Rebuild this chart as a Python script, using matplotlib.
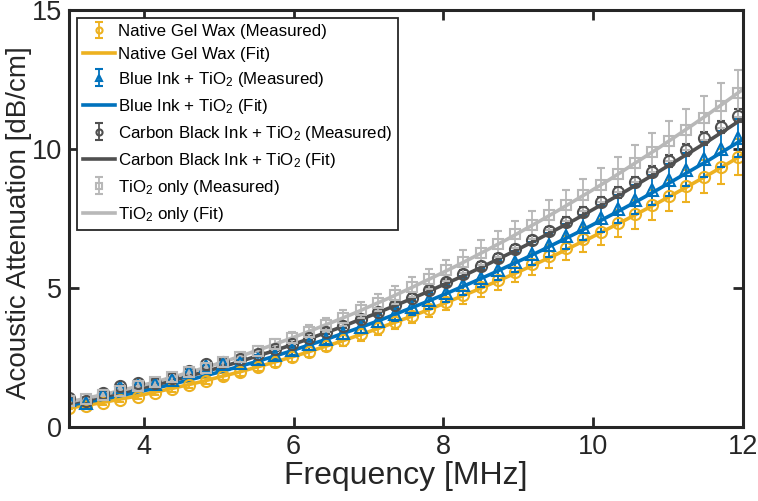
import matplotlib
matplotlib.use("Agg")
import matplotlib.pyplot as plt
from matplotlib import font_manager

# measured frequencies [MHz] and fit frequencies
freq_meas = [3.000, 3.229, 3.458, 3.687, 3.916, 4.145, 4.374, 4.603, 4.832, 5.061,
             5.290, 5.519, 5.748, 5.977, 6.206, 6.435, 6.664, 6.893, 7.122, 7.351,
             7.580, 7.809, 8.038, 8.267, 8.496, 8.725, 8.954, 9.183, 9.412, 9.641,
             9.870, 10.099, 10.328, 10.557, 10.786, 11.015, 11.244, 11.473, 11.702, 11.931]
freq_fit = [3.000, 3.225, 3.450, 3.675, 3.900, 4.125, 4.350, 4.575, 4.800, 5.025,
            5.250, 5.475, 5.700, 5.925, 6.150, 6.375, 6.600, 6.825, 7.050, 7.275,
            7.500, 7.725, 7.950, 8.175, 8.400, 8.625, 8.850, 9.075, 9.300, 9.525,
            9.750, 9.975, 10.200, 10.425, 10.650, 10.875, 11.100, 11.325, 11.550, 11.775, 12.000]

gel_meas = [0.68, 0.76, 0.86, 0.97, 1.08, 1.22, 1.36, 1.51, 1.66, 1.82,
            1.98, 2.15, 2.33, 2.52, 2.71, 2.91, 3.12, 3.33, 3.55, 3.78,
            4.01, 4.25, 4.50, 4.76, 5.02, 5.29, 5.57, 5.85, 6.14, 6.44,
            6.75, 7.02, 7.33, 7.65, 7.98, 8.32, 8.66, 9.01, 9.36, 9.72]
gel_err = [0.05, 0.05, 0.06, 0.07, 0.08, 0.08, 0.09, 0.10, 0.11, 0.12,
           0.13, 0.14, 0.16, 0.17, 0.18, 0.19, 0.21, 0.22, 0.24, 0.25,
           0.27, 0.28, 0.30, 0.32, 0.33, 0.35, 0.37, 0.39, 0.41, 0.43,
           0.45, 0.47, 0.49, 0.51, 0.53, 0.55, 0.58, 0.60, 0.63, 0.65]
gel_fit = [0.68, 0.78, 0.88, 1.00, 1.11, 1.24, 1.37, 1.51, 1.65, 1.81,
           1.96, 2.13, 2.30, 2.48, 2.66, 2.86, 3.05, 3.26, 3.47, 3.69,
           3.91, 4.14, 4.38, 4.63, 4.88, 5.14, 5.40, 5.67, 5.95, 6.23,
           6.53, 6.82, 7.13, 7.44, 7.76, 8.08, 8.41, 8.75, 9.09, 9.44, 9.80]

blue_meas = [0.98, 0.88, 1.18, 1.45, 1.52, 1.55, 1.68, 1.98, 2.18, 2.25,
             2.30, 2.45, 2.60, 2.78, 2.97, 3.17, 3.38, 3.60, 3.83, 4.07,
             4.31, 4.56, 4.82, 5.09, 5.37, 5.65, 5.94, 6.24, 6.55, 6.86,
             7.18, 7.51, 7.84, 8.18, 8.53, 8.89, 9.26, 9.63, 10.01, 10.40]
blue_err = [0.05, 0.06, 0.07, 0.07, 0.08, 0.09, 0.10, 0.11, 0.12, 0.13,
            0.14, 0.15, 0.17, 0.18, 0.19, 0.20, 0.22, 0.23, 0.25, 0.26,
            0.28, 0.30, 0.31, 0.33, 0.35, 0.36, 0.38, 0.40, 0.42, 0.44,
            0.46, 0.48, 0.50, 0.53, 0.55, 0.57, 0.59, 0.62, 0.64, 0.67]
blue_fit = [0.78, 0.89, 1.00, 1.12, 1.25, 1.38, 1.52, 1.67, 1.83, 1.99,
            2.16, 2.33, 2.51, 2.70, 2.90, 3.10, 3.31, 3.52, 3.74, 3.97,
            4.21, 4.45, 4.70, 4.96, 5.22, 5.49, 5.77, 6.05, 6.34, 6.64,
            6.94, 7.25, 7.57, 7.89, 8.22, 8.56, 8.91, 9.26, 9.61, 9.98, 10.35]

carbon_meas = [1.03, 0.95, 1.21, 1.47, 1.57, 1.60, 1.75, 2.03, 2.25, 2.33,
               2.45, 2.62, 2.80, 2.98, 3.20, 3.43, 3.65, 3.90, 4.14, 4.38,
               4.65, 4.92, 5.20, 5.49, 5.79, 6.09, 6.40, 6.72, 7.05, 7.39,
               7.73, 8.08, 8.44, 8.81, 9.19, 9.58, 9.97, 10.38, 10.79, 11.20]
carbon_err = [0.05, 0.05, 0.05, 0.05, 0.06, 0.06, 0.06, 0.07, 0.07, 0.07,
              0.08, 0.08, 0.08, 0.09, 0.09, 0.10, 0.10, 0.11, 0.11, 0.12,
              0.12, 0.13, 0.13, 0.14, 0.14, 0.15, 0.15, 0.16, 0.16, 0.17,
              0.17, 0.18, 0.19, 0.19, 0.20, 0.21, 0.21, 0.22, 0.23, 0.24]
carbon_fit = [0.85, 0.97, 1.09, 1.22, 1.36, 1.50, 1.65, 1.81, 1.98, 2.15,
              2.33, 2.52, 2.71, 2.91, 3.12, 3.34, 3.56, 3.80, 4.03, 4.28,
              4.53, 4.79, 5.06, 5.33, 5.61, 5.90, 6.20, 6.50, 6.81, 7.13,
              7.45, 7.79, 8.13, 8.47, 8.83, 9.19, 9.56, 9.93, 10.31, 10.70, 11.10]

tio2_meas = [0.92, 1.00, 1.15, 1.30, 1.47, 1.63, 1.80, 1.97, 2.14, 2.33,
             2.53, 2.74, 2.97, 3.19, 3.43, 3.67, 3.93, 4.20, 4.47, 4.75,
             5.03, 5.33, 5.63, 5.95, 6.27, 6.59, 6.93, 7.27, 7.62, 7.97,
             8.34, 8.71, 9.09, 9.48, 9.88, 10.28, 10.70, 11.12, 11.55, 12.00]
tio2_err = [0.06, 0.07, 0.08, 0.09, 0.10, 0.11, 0.13, 0.14, 0.15, 0.16,
            0.18, 0.19, 0.21, 0.22, 0.24, 0.26, 0.28, 0.29, 0.31, 0.33,
            0.35, 0.37, 0.39, 0.42, 0.44, 0.46, 0.48, 0.51, 0.53, 0.56,
            0.58, 0.61, 0.64, 0.66, 0.69, 0.72, 0.75, 0.78, 0.81, 0.84]
tio2_fit = [0.90, 1.03, 1.16, 1.30, 1.45, 1.60, 1.77, 1.94, 2.12, 2.31,
            2.51, 2.72, 2.93, 3.15, 3.38, 3.62, 3.86, 4.11, 4.38, 4.64,
            4.92, 5.21, 5.50, 5.80, 6.11, 6.43, 6.75, 7.09, 7.43, 7.78,
            8.14, 8.50, 8.87, 9.26, 9.65, 10.04, 10.45, 10.86, 11.28, 11.71, 12.15]

names = ["Native Gel Wax", r"Blue Ink + $\mathregular{TiO_2}$",
         r"Carbon Black Ink + $\mathregular{TiO_2}$", r"$\mathregular{TiO_2}$ only"]
colors = ["#EDB120", "#0072BD", "#505050", "#B8B8B8"]
markers = ["o", "^", "o", "s"]

installed = {f.name for f in font_manager.fontManager.ttflist}
narrow = "Liberation Sans Narrow" if "Liberation Sans Narrow" in installed else "Liberation Sans"
plt.rcParams["font.family"] = [narrow, "DejaVu Sans"]
plt.rcParams["mathtext.default"] = "regular"

ink = "#262626"
fig = plt.figure(figsize=(7.58, 5.01), dpi=100)
ax = fig.add_axes([69 / 758, 1 - 427 / 501, (743 - 69) / 758, (427 - 10) / 501])

data = [(gel_meas, gel_err, gel_fit), (blue_meas, blue_err, blue_fit),
        (carbon_meas, carbon_err, carbon_fit), (tio2_meas, tio2_err, tio2_fit)]
handles = []
for name, c, m, (meas, err, fit) in zip(names, colors, markers, data):
    eb = ax.errorbar(freq_meas, meas, yerr=err, fmt=m, ls="none", color=c, mfc="none",
                     ms=8 if m != "s" else 7, mew=1.5, elinewidth=1.3, capsize=3,
                     capthick=1.3, label=name + " (Measured)")
    ln, = ax.plot(freq_fit, fit, color=c, lw=2.6, label=name + " (Fit)")
    handles += [eb, ln]

ax.set_xlim(3, 12)
ax.set_ylim(0, 15)
ax.set_xticks([4, 6, 8, 10, 12])
ax.set_yticks([0, 5, 10, 15])
ax.tick_params(direction="in", length=7, width=2, top=True, right=True,
               labelsize=19.5, colors=ink, pad=5)
for s in ax.spines.values():
    s.set_linewidth(2.2)
    s.set_color(ink)

ax.set_xlabel("Frequency [MHz]", fontsize=23, color=ink, labelpad=1)
ax.set_ylabel("Acoustic Attenuation [dB/cm]", fontsize=20, color=ink,
              family="Liberation Sans")
ax.yaxis.set_label_coords(-37 / 674, 0.49)

leg = ax.legend(handles=handles, loc="upper left",
                bbox_to_anchor=(77 / 758, 1 - 18 / 501),
                bbox_transform=fig.transFigure, borderaxespad=0, fontsize=12.2,
                frameon=True, fancybox=False, framealpha=1, edgecolor=ink,
                borderpad=0.35, labelspacing=0.47, handlelength=1.9,
                handletextpad=0.15, markerscale=0.55)
leg.get_frame().set_linewidth(1.3)

fig.savefig("out.png", dpi=100)
